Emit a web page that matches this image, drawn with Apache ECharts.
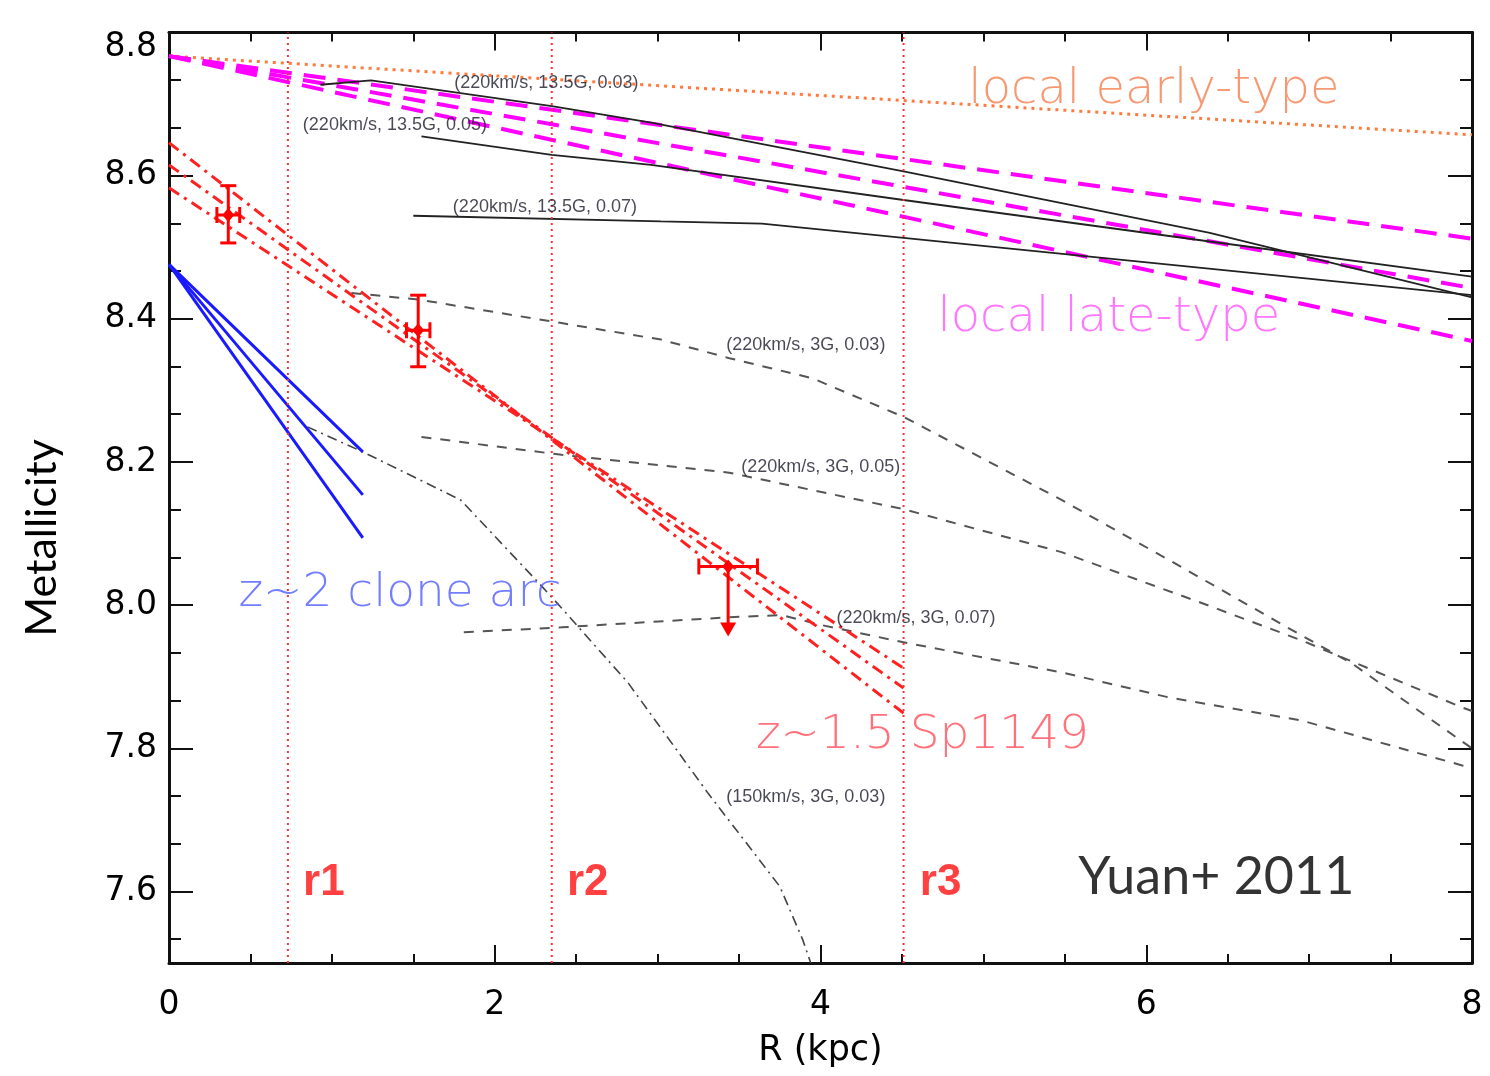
<!DOCTYPE html>
<html>
<head>
<meta charset="utf-8">
<script src="https://cdn.jsdelivr.net/npm/echarts@6/dist/echarts.min.js"></script>
<style>
  html, body { margin: 0; padding: 0; background: #fff; }
  #main { width: 1490px; height: 1076px; }
</style>
</head>
<body>
<div id="main"></div>
<script>
// tick labels
var yMajor = [7.6, 7.8, 8.0, 8.2, 8.4, 8.6, 8.8];
var yMinorPerMajor = 3;

// local early-type (orange dotted)
var earlyX = [0, 8];
var earlyY = [8.767, 8.657];

// local late-type (magenta dashed)
var lateX = [0, 8];
var lateY1 = [8.767, 8.512];
var lateY2 = [8.767, 8.443];
var lateY3 = [8.767, 8.369];

// models, solid black (220km/s, 13.5G, ...)
var m135a = [[0.93, 8.727], [1.24, 8.733], [2.35, 8.697], [2.96, 8.674], [4.51, 8.606], [6.39, 8.52], [8, 8.430]];
var m135b = [[1.55, 8.655], [2.35, 8.629], [2.96, 8.615], [4.51, 8.566], [6.39, 8.508], [8, 8.459]];
var m135c = [[1.50, 8.544], [3.02, 8.536], [3.64, 8.533], [4.51, 8.513], [8, 8.433]];

// models, dashed gray (220km/s, 3G, ...)
var m3a = [[1.12, 8.436], [1.53, 8.427], [2.41, 8.394], [3.02, 8.371], [3.44, 8.345], [3.95, 8.317], [4.51, 8.263],
           [5.48, 8.147], [6.14, 8.063], [6.95, 7.958], [7.26, 7.919], [7.93, 7.811], [8, 7.800]];
var m3b = [[1.55, 8.235], [2.41, 8.210], [3.44, 8.185], [4.51, 8.134], [5.48, 8.074], [6.34, 8.003], [6.95, 7.951],
           [7.94, 7.857], [8, 7.852]];
var m3c = [[1.81, 7.962], [2.41, 7.969], [3.44, 7.983], [3.76, 7.986], [4.01, 7.972], [4.51, 7.948], [5.48, 7.906],
           [6.14, 7.871], [6.95, 7.839], [7.94, 7.776], [8, 7.773]];

// model, dash-dot gray (150km/s, 3G, 0.03)
var m150 = [[0.85, 8.249], [1.20, 8.213], [1.79, 8.147], [2.27, 8.031], [2.41, 7.996], [2.82, 7.891], [3.31, 7.737],
            [3.75, 7.607], [3.89, 7.533], [3.94, 7.50]];

// z~2 clone arc (blue)
var cloneX = [0, 1.19];
var cloneY1 = [8.476, 8.214];
var cloneY2 = [8.476, 8.154];
var cloneY3 = [8.476, 8.094];

// z~1.5 Sp1149 fits (red dash-dot)
var spX = [0, 4.51];
var spY1 = [8.646, 7.849];
var spY2 = [8.615, 7.884];
var spY3 = [8.583, 7.912];

// Sp1149 measurements
var errX   = [0.364, 1.530, 3.433];
var errXe  = [0.070, 0.072, 0.180];
var errY   = [8.545, 8.384, 8.054];
var errYlo = [8.506, 8.333, 7.956];
var errYhi = [8.586, 8.433, 8.054];
var errLim = [0, 0, 1];

// radial bins
var rLines = [0.73, 2.35, 4.51];
var rNames = ['r1', 'r2', 'r3'];
var rLabelX = [0.823, 2.443, 4.610];
var rLabelY = 7.612;

// model annotations
var annoText = ['(220km/s, 13.5G, 0.03)', '(220km/s, 13.5G, 0.05)', '(220km/s, 13.5G, 0.07)',
                '(220km/s, 3G, 0.03)', '(220km/s, 3G, 0.05)', '(220km/s, 3G, 0.07)', '(150km/s, 3G, 0.03)'];
var annoX = [2.317, 1.387, 2.308, 3.910, 4.002, 4.586, 3.910];
var annoY = [8.729, 8.671, 8.556, 8.363, 8.193, 7.982, 7.732];

// big labels
var bigText = ['local early-type', 'local late-type', 'z~2 clone arc', 'z~1.5 Sp1149', 'Yuan+ 2011'];
var bigX = [6.047, 5.770, 1.418, 4.626, 6.43];
var bigY = [8.719, 8.400, 8.016, 7.817, 7.620];

var yMinor = [];
for (var i = 0; i < yMajor.length; i++) {
    for (var k = 1; k < yMinorPerMajor; k++) {
        var v = yMajor[i] - k * 0.2 / yMinorPerMajor;
        if (v >= 7.5) yMinor.push(v);
    }
}

function zip(xs, ys) {
    var out = [];
    for (var i = 0; i < xs.length; i++) out.push([xs[i], ys[i]]);
    return out;
}

var myChart = echarts.init(document.getElementById('main'));

function line(data, color, width, type) {
    return {
        type: 'line',
        data: data,
        showSymbol: false,
        symbol: 'none',
        silent: true,
        animation: false,
        lineStyle: { color: color, width: width, type: type }
    };
}

var series = [];
series.push(line(zip(earlyX, earlyY), '#ff7a3c', 3, [3, 5]));
[lateY1, lateY2, lateY3].forEach(function (ys) {
    series.push(line(zip(lateX, ys), '#ff00ff', 4, [22, 12]));
});
[m135a, m135b, m135c].forEach(function (d) {
    series.push(line(d, '#222', 1.8, 'solid'));
});
[m3a, m3b, m3c].forEach(function (d) {
    series.push(line(d, '#555', 2, [10, 9]));
});
series.push(line(m150, '#444', 1.6, [10, 5, 2, 5]));
[cloneY1, cloneY2, cloneY3].forEach(function (ys) {
    series.push(line(zip(cloneX, ys), '#1a1aff', 3, 'solid'));
});
[spY1, spY2, spY3].forEach(function (ys) {
    series.push(line(zip(spX, ys), '#ff2020', 3, [12, 6, 3, 6]));
});
rLines.forEach(function (x) {
    series.push(line([[x, 7.5], [x, 8.8]], '#ff3030', 2, [2, 4]));
});

// error bars
var errData = [];
for (var i = 0; i < errX.length; i++) {
    errData.push([errX[i], errY[i], errXe[i], errYlo[i], errYhi[i], errLim[i]]);
}
series.push({
    type: 'custom',
    silent: true,
    animation: false,
    z: 10,
    data: errData,
    renderItem: function (params, api) {
        var x = api.value(0), y = api.value(1), xe = api.value(2);
        var lo = api.coord([x, api.value(3)]);
        var hi = api.coord([x, api.value(4)]);
        var c = api.coord([x, y]);
        var l = api.coord([x - xe, y]);
        var r = api.coord([x + xe, y]);
        var lim = api.value(5);
        var st = { stroke: '#ff0000', lineWidth: 3 };
        var cap = 8;
        var ch = [
            { type: 'line', shape: { x1: l[0], y1: c[1], x2: r[0], y2: c[1] }, style: st },
            { type: 'line', shape: { x1: l[0], y1: c[1] - cap, x2: l[0], y2: c[1] + cap }, style: st },
            { type: 'line', shape: { x1: r[0], y1: c[1] - cap, x2: r[0], y2: c[1] + cap }, style: st }
        ];
        if (lim) {
            ch.push({ type: 'line', shape: { x1: c[0], y1: c[1], x2: c[0], y2: lo[1] - 10 }, style: st });
            ch.push({ type: 'polygon', shape: { points: [[c[0] - 8, lo[1] - 14], [c[0] + 8, lo[1] - 14], [c[0], lo[1]]] },
                      style: { fill: '#ff0000' } });
        } else {
            ch.push({ type: 'line', shape: { x1: c[0], y1: hi[1], x2: c[0], y2: lo[1] }, style: st });
            ch.push({ type: 'line', shape: { x1: c[0] - cap, y1: hi[1], x2: c[0] + cap, y2: hi[1] }, style: st });
            ch.push({ type: 'line', shape: { x1: c[0] - cap, y1: lo[1], x2: c[0] + cap, y2: lo[1] }, style: st });
        }
        ch.push({ type: 'polygon', shape: { points: [[c[0], c[1] - 7], [c[0] + 6, c[1]], [c[0], c[1] + 7], [c[0] - 6, c[1]]] },
                  style: { fill: '#ff0000' } });
        return { type: 'group', children: ch };
    }
});

// text labels
var bigStyle = [
    { color: '#f4804f', fontSize: 48, fontFamily: 'DejaVu Sans', fontWeight: 200 },
    { color: '#ff55ff', fontSize: 48, fontFamily: 'DejaVu Sans', fontWeight: 200 },
    { color: '#4f5cff', fontSize: 47, fontFamily: 'DejaVu Sans', fontWeight: 200 },
    { color: '#ff4d5a', fontSize: 47, fontFamily: 'DejaVu Sans', fontWeight: 200 },
    { color: '#000', fontSize: 52, fontFamily: 'Lato', fontWeight: 'normal' }
];
var textData = [];
annoText.forEach(function (t, i) {
    textData.push({
        value: [annoX[i], annoY[i]],
        label: { formatter: t, color: '#1c1c2c', fontSize: 18, fontFamily: 'Liberation Sans' }
    });
});
bigText.forEach(function (t, i) {
    textData.push({ value: [bigX[i], bigY[i]], label: Object.assign({ formatter: t }, bigStyle[i]) });
});
rNames.forEach(function (t, i) {
    textData.push({
        value: [rLabelX[i], rLabelY],
        label: { formatter: t, align: 'left', color: '#ff1010', fontSize: 44, fontWeight: 'bold', fontFamily: 'Liberation Sans' }
    });
});
series.push({
    type: 'scatter',
    symbolSize: 0,
    silent: true,
    animation: false,
    z: 20,
    data: textData,
    label: { show: true, position: 'inside', align: 'center', verticalAlign: 'middle' }
});

var axisLine = { show: true, onZero: false, lineStyle: { color: '#111', width: 3 } };

function xAx(pos, labels) {
    return {
        type: 'value', position: pos, min: 0, max: 8, interval: 2,
        axisLine: axisLine,
        axisTick: { inside: true, length: 18, lineStyle: { color: '#111', width: 2 } },
        minorTick: { show: true, splitNumber: 4, length: 9, lineStyle: { color: '#111', width: 2 } },
        splitLine: { show: false },
        axisLabel: { show: labels, margin: 26, color: '#000', fontSize: 33, fontFamily: 'DejaVu Sans' },
        name: labels ? 'R (kpc)' : '',
        nameLocation: 'middle', nameGap: 70,
        nameTextStyle: { color: '#000', fontSize: 35, fontFamily: 'DejaVu Sans' }
    };
}

function yAx(pos, values, len, labels) {
    return {
        type: 'value', position: pos, min: 7.5, max: 8.8, offset: 0,
        axisLine: axisLine,
        axisTick: { inside: true, length: len, customValues: values, lineStyle: { color: '#111', width: 2 } },
        splitLine: { show: false },
        axisLabel: {
            show: labels, customValues: values, margin: 12, color: '#000', fontSize: 33, fontFamily: 'DejaVu Sans',
            formatter: function (v) {
                var s = v.toFixed(1);
                return Math.abs(v - 8.8) < 1e-6 ? '{t|' + s + '}' : s;
            },
            rich: { t: { padding: [30, 0, 0, 0], color: '#000', fontSize: 33, fontFamily: 'DejaVu Sans' } }
        }
    };
}

var option = {
    backgroundColor: '#fff',
    animation: false,
    grid: { left: 169, right: 18, top: 32.5, bottom: 113, containLabel: false },
    xAxis: [xAx('bottom', true), xAx('top', false)],
    yAxis: [
        yAx('left', yMajor, 24, true),
        yAx('left', yMinor, 12, false),
        yAx('right', yMajor, 24, false),
        yAx('right', yMinor, 12, false)
    ],
    graphic: [{
        type: 'text', x: 42, y: 538, rotation: Math.PI / 2,
        style: { text: 'Metallicity', fill: '#000', fontSize: 43, fontFamily: 'Lato', align: 'center', verticalAlign: 'middle' }
    }],
    series: series
};

myChart.setOption(option);
</script>
</body>
</html>
